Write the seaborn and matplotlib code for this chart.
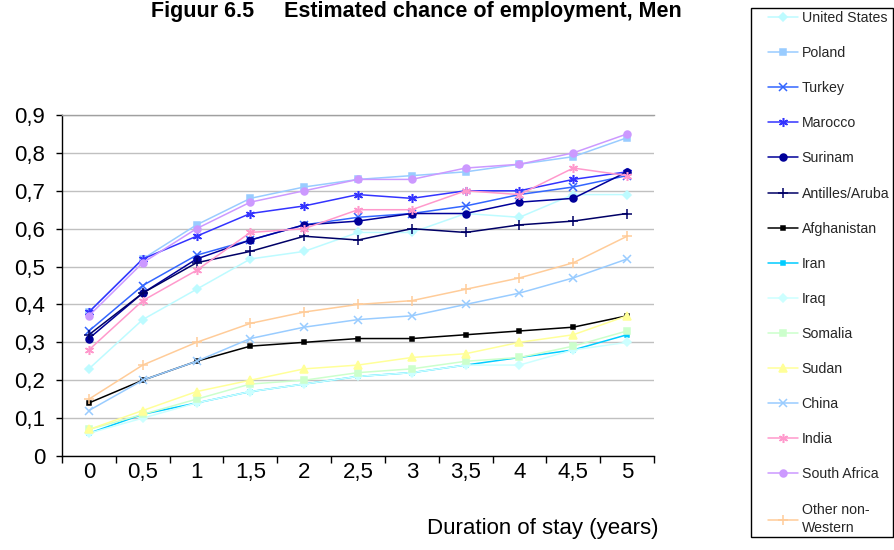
import numpy as np
import pandas as pd
import matplotlib
matplotlib.use("Agg")
import matplotlib.pyplot as plt
from matplotlib.patches import Rectangle
import seaborn as sns

# Duration of stay (years) and estimated chance of employment per country of origin
durations = [0, 0.5, 1, 1.5, 2, 2.5, 3, 3.5, 4, 4.5, 5]
duration_labels = ["0", "0,5", "1", "1,5", "2", "2,5", "3", "3,5", "4", "4,5", "5"]

united_states = [0.23, 0.36, 0.44, 0.52, 0.54, 0.59, 0.59, 0.64, 0.63, 0.69, 0.69]
poland = [0.38, 0.52, 0.61, 0.68, 0.71, 0.73, 0.74, 0.75, 0.77, 0.79, 0.84]
turkey = [0.33, 0.45, 0.53, 0.57, 0.61, 0.63, 0.64, 0.66, 0.69, 0.71, 0.74]
marocco = [0.38, 0.52, 0.58, 0.64, 0.66, 0.69, 0.68, 0.70, 0.70, 0.73, 0.75]
surinam = [0.31, 0.43, 0.52, 0.57, 0.61, 0.62, 0.64, 0.64, 0.67, 0.68, 0.75]
antilles_aruba = [0.32, 0.43, 0.51, 0.54, 0.58, 0.57, 0.60, 0.59, 0.61, 0.62, 0.64]
afghanistan = [0.14, 0.20, 0.25, 0.29, 0.30, 0.31, 0.31, 0.32, 0.33, 0.34, 0.37]
iran = [0.06, 0.11, 0.14, 0.17, 0.19, 0.21, 0.22, 0.24, 0.26, 0.28, 0.32]
iraq = [0.06, 0.10, 0.14, 0.17, 0.19, 0.21, 0.22, 0.24, 0.24, 0.28, 0.30]
somalia = [0.07, 0.11, 0.15, 0.19, 0.20, 0.22, 0.23, 0.25, 0.26, 0.29, 0.33]
sudan = [0.07, 0.12, 0.17, 0.20, 0.23, 0.24, 0.26, 0.27, 0.30, 0.32, 0.37]
china = [0.12, 0.20, 0.25, 0.31, 0.34, 0.36, 0.37, 0.40, 0.43, 0.47, 0.52]
india = [0.28, 0.41, 0.49, 0.59, 0.60, 0.65, 0.65, 0.70, 0.69, 0.76, 0.74]
south_africa = [0.37, 0.51, 0.60, 0.67, 0.70, 0.73, 0.73, 0.76, 0.77, 0.80, 0.85]
other_non_western = [0.15, 0.24, 0.30, 0.35, 0.38, 0.40, 0.41, 0.44, 0.47, 0.51, 0.58]

y_ticks = [0, 0.1, 0.2, 0.3, 0.4, 0.5, 0.6, 0.7, 0.8, 0.9]
y_tick_labels = ["0", "0,1", "0,2", "0,3", "0,4", "0,5", "0,6", "0,7", "0,8", "0,9"]

asterisk = (6, 2, 0)

# name, values, colour, marker, marker size
series = [
    ("United States", united_states, "#BDFBFF", "D", 4.5),
    ("Poland", poland, "#99CCFF", "s", 4.5),
    ("Turkey", turkey, "#3366FF", "x", 5.5),
    ("Marocco", marocco, "#3333FF", asterisk, 6.5),
    ("Surinam", surinam, "#000099", "o", 5),
    ("Antilles/Aruba", antilles_aruba, "#000066", "+", 6.5),
    ("Afghanistan", afghanistan, "#000000", "s", 2.2),
    ("Iran", iran, "#00CCFF", "s", 2.8),
    ("Iraq", iraq, "#CCFFFF", "D", 4.5),
    ("Somalia", somalia, "#CCFFCC", "s", 4.5),
    ("Sudan", sudan, "#FFFF99", "^", 5.5),
    ("China", china, "#99CCFF", "x", 5.5),
    ("India", india, "#FF99CC", asterisk, 6.5),
    ("South Africa", south_africa, "#CC99FF", "o", 5),
    ("Other non-\nWestern", other_non_western, "#FFCC99", "+", 6.5),
]

sns.set_theme(style="white")
plt.rcParams["font.family"] = ["Liberation Sans", "DejaVu Sans"]

fig = plt.figure(figsize=(8.95, 5.5), dpi=100)
ax = fig.add_axes([62 / 895, 1 - 456 / 550, (654 - 62) / 895, (456 - 115) / 550])

for name, values, color, marker, msize in series:
    df = pd.DataFrame({"duration": durations, "chance": values})
    sns.lineplot(
        data=df, x="duration", y="chance", ax=ax, sort=False,
        color=color, linewidth=1.1, marker=marker, markersize=msize,
        markeredgecolor=color, markerfacecolor=color, markeredgewidth=1.1,
        label=name,
    )

ax.set_xlim(-0.25, 5.25)
ax.set_ylim(0, 0.9)
ax.set_yticks(y_ticks)
ax.set_yticklabels(y_tick_labels, fontsize=16, color="black")
ax.set_xticks(durations)
ax.set_xticklabels(duration_labels, fontsize=16, color="black")
ax.set_xticks(np.arange(-0.25, 5.3, 0.5), minor=True)
ax.tick_params(axis="x", which="major", length=0, pad=4)
ax.tick_params(axis="x", which="minor", length=5, width=1, color="black", direction="out", bottom=True)
ax.tick_params(axis="y", which="major", length=4, width=1, color="black", direction="out", left=True, pad=8)

ax.yaxis.grid(True, color="#C0C0C0", linewidth=1)
ax.xaxis.grid(False)
ax.set_axisbelow(True)
for side in ("left", "bottom"):
    ax.spines[side].set_color("black")
    ax.spines[side].set_linewidth(1)
ax.spines["top"].set_color("#A0A0A0")
ax.spines["top"].set_linewidth(1)
ax.spines["right"].set_visible(False)

ax.set_ylabel("")
ax.set_xlabel("Duration of stay (years)", fontsize=16, color="black", ha="right")
ax.xaxis.set_label_coords(1.0068, -0.183)

# Legend: entries placed with no frame, the box drawn as a separate rectangle
handles, labels = ax.get_legend_handles_labels()
ax.get_legend().remove()
leg = fig.legend(
    handles, labels, loc="upper left", bbox_to_anchor=(768 / 895, 1 - 11 / 550),
    frameon=False, fontsize=10.2,
    handlelength=2.1, handletextpad=0.28, labelspacing=1.49,
    borderpad=0, borderaxespad=0,
)
leg.get_texts()[-1].set_linespacing(1.45)
fig.patches.append(Rectangle((751 / 895, 1 - 537 / 550), 142 / 895, 529 / 550,
                             transform=fig.transFigure, fill=False,
                             edgecolor="black", linewidth=1))

fig.text(416 / 895, 1 - 16.5 / 550, "Figuur 6.5     Estimated chance of employment, Men",
         ha="center", va="baseline", fontsize=15.5, fontweight="bold", color="black")

fig.savefig("out.png", dpi=100, facecolor="white")
